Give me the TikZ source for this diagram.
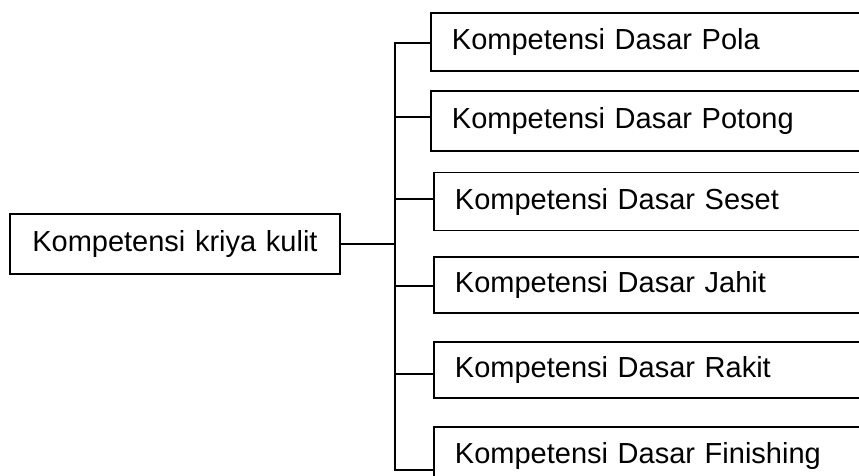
\documentclass[tikz,border=0pt]{standalone}
\usepackage{fontspec}
\setmainfont{Liberation Sans}
\usetikzlibrary{positioning}
\begin{document}
\begin{tikzpicture}[x=1pt,y=-1pt,
		kbox/.style={draw,line width=1.9pt,anchor=west,minimum height=58pt,text width=470pt,align=left,inner xsep=21pt,text height=21pt,text depth=6pt,font=\fontsize{29}{34}\selectfont},
		wire/.style={line width=1.9pt}]
	\useasboundingbox (0,0) rectangle (859,476);
	\clip (0,0) rectangle (859,476);
	% root
	\node [kbox,text width=288pt,align=center,minimum height=60pt] (kriya) at (9,244) {Kompetensi kriya kulit};
	% competences
	\node [kbox] (pola) at (430,42) {Kompetensi Dasar Pola};
	\node [kbox,minimum height=60pt] (potong) at (430,121) {Kompetensi Dasar Potong};
	\node [kbox] (seset) at (433,201.5) {Kompetensi Dasar Seset};
	\node [kbox,minimum height=56pt] (jahit) at (433,285) {Kompetensi Dasar Jahit};
	\node [kbox,minimum height=56pt] (rakit) at (433,370) {Kompetensi Dasar Rakit};
	\node [kbox] (finishing) at (433,456) {Kompetensi Dasar Finishing};
	% tree lines
	\coordinate (trunk) at (395,244);
	\coordinate (jpola) at (395,43);
	\coordinate (jfinishing) at (395,470);
	\draw [wire] (kriya.east) -- (trunk);
	\draw [wire] (jpola -| pola.west) -- (jpola) -- (jfinishing) -- (jfinishing -| finishing.west);
	\foreach \k/\y in {potong/117,seset/199,jahit/286,rakit/374}
		{\coordinate (j\k) at (395,\y);
		\draw [wire] (j\k) -- (j\k -| \k.west);}
\end{tikzpicture}
\end{document}
